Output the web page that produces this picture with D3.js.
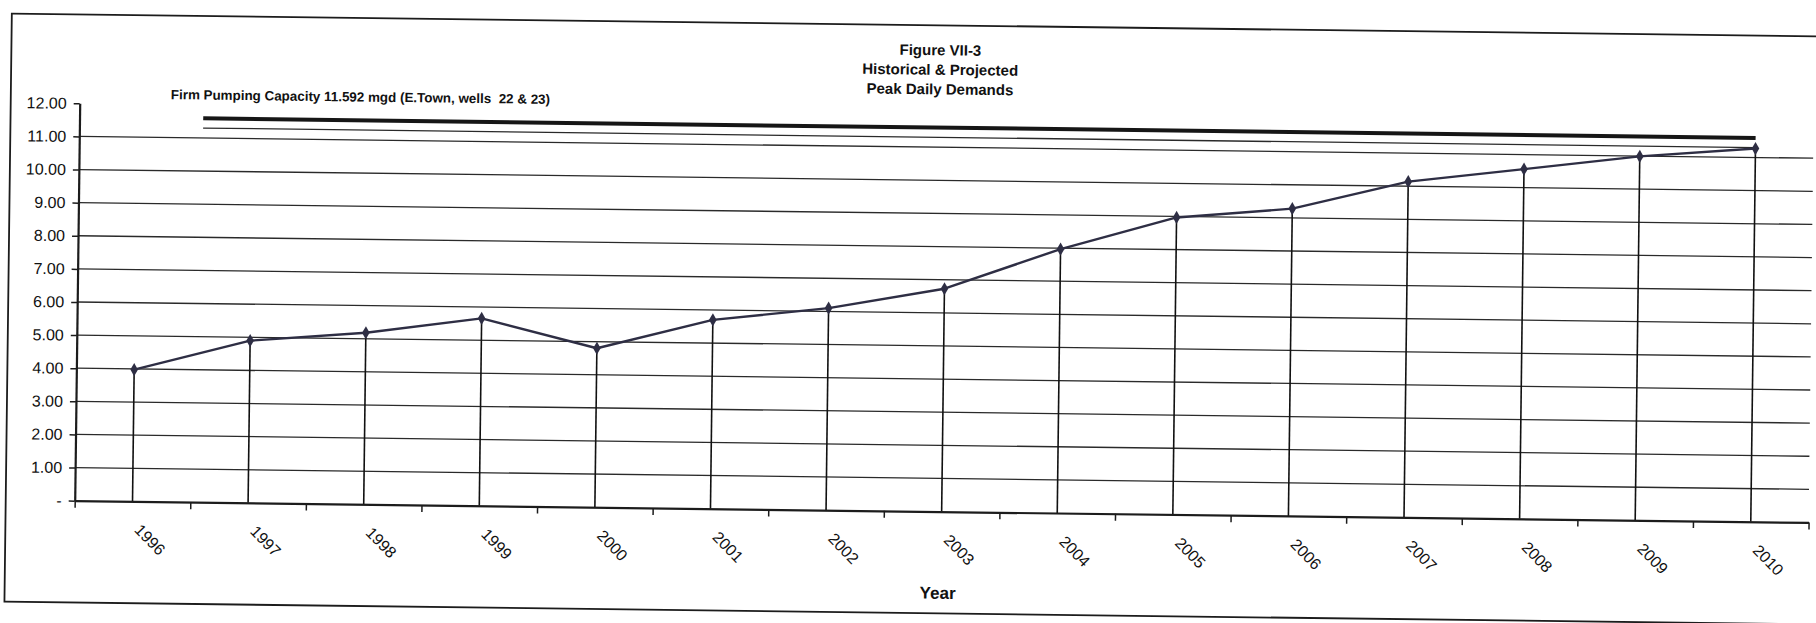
<!DOCTYPE html>
<html>
<head>
<meta charset="utf-8">
<script src="https://cdn.jsdelivr.net/npm/d3@7"></script>
<style>
  html, body { margin: 0; padding: 0; background: #ffffff; }
  svg { display: block; font-family: "Liberation Sans", Arial, sans-serif; }
</style>
</head>
<body>
<script>
// Peak daily demand, historical and projected (mgd)
const years = ["1996","1997","1998","1999","2000","2001","2002","2003","2004","2005","2006","2007","2008","2009","2010"];
const peakDemand = [3.98, 4.90, 5.18, 5.66, 4.80, 5.70, 6.10, 6.73, 7.97, 8.97, 9.28, 10.14, 10.56, 10.99, 11.27];

// Value axis ticks and their printed labels
const yTicks = [0, 1, 2, 3, 4, 5, 6, 7, 8, 9, 10, 11, 12];
const yTickLabels = ["-", "1.00", "2.00", "3.00", "4.00", "5.00", "6.00", "7.00", "8.00", "9.00", "10.00", "11.00", "12.00"];

// Firm pumping capacity line and the thin guide line beneath it
const firmCapacity = 11.592;
const guideLevel = 11.3;
const capacitySpan = [1996.57, 2010];

const titleLines = ["Figure VII-3", "Historical & Projected", "Peak Daily Demands"];
const capacityLabel = "Firm Pumping Capacity 11.592 mgd (E.Town, wells  22 & 23)";
const xTitle = "Year";

const W = 1816, H = 623;
const plot = { left: 81, right: 1815, top: 102.3, bottom: 499.7 };
const ink = "#1c1c1c";

const svg = d3.select("body").append("svg")
  .attr("width", W).attr("height", H).attr("viewBox", `0 0 ${W} ${H}`);

// the sheet sits slightly askew on the page
const g = svg.append("g").attr("transform", "rotate(0.72)");

// outer frame
g.append("rect")
  .attr("x", 12).attr("y", 13.5)
  .attr("width", 1900).attr("height", 588)
  .attr("fill", "none").attr("stroke", ink).attr("stroke-width", 1.8);

const x = d3.scaleBand().domain(years).range([plot.left, plot.right]);
const bw = x.bandwidth();
const cx = d => x(d) + bw / 2;
const yearPos = d3.scaleLinear()
  .domain([+years[0], +years[years.length - 1]])
  .range([cx(years[0]), cx(years[years.length - 1])]);
const slot = d3.scaleLinear().domain([0, years.length]).range([plot.left, plot.right]);
const y = d3.scaleLinear().domain([0, 12]).range([plot.bottom, plot.top]);

// horizontal gridlines
g.append("g").selectAll("line")
  .data(yTicks.filter(t => t > 0 && t < 12))
  .join("line")
  .attr("x1", plot.left).attr("x2", plot.right)
  .attr("y1", d => y(d)).attr("y2", d => y(d))
  .attr("stroke", "#2a2a2a").attr("stroke-width", 1.3);

// guide line and firm capacity line
g.append("line")
  .attr("x1", yearPos(capacitySpan[0])).attr("x2", yearPos(capacitySpan[1]))
  .attr("y1", y(guideLevel)).attr("y2", y(guideLevel))
  .attr("stroke", "#2a2a2a").attr("stroke-width", 1.3);
g.append("line")
  .attr("x1", yearPos(capacitySpan[0])).attr("x2", yearPos(capacitySpan[1]))
  .attr("y1", y(firmCapacity)).attr("y2", y(firmCapacity))
  .attr("stroke", "#161616").attr("stroke-width", 4);

g.append("text")
  .attr("x", 172).attr("y", 97)
  .attr("font-size", 13.4).attr("font-weight", "bold").attr("fill", "#111")
  .style("white-space", "pre")
  .text(capacityLabel);

const pts = years.map((yr, i) => ({ yr, v: peakDemand[i] }));

// drop lines from each point to the category axis
g.append("g").selectAll("line")
  .data(pts)
  .join("line")
  .attr("x1", d => cx(d.yr)).attr("x2", d => cx(d.yr))
  .attr("y1", d => y(d.v)).attr("y2", y(0))
  .attr("stroke", "#111").attr("stroke-width", 1.6);

// demand line with diamond markers
g.append("path")
  .datum(pts)
  .attr("fill", "none").attr("stroke", "#2e2e44").attr("stroke-width", 2.4)
  .attr("stroke-linejoin", "round")
  .attr("d", d3.line().x(d => cx(d.yr)).y(d => y(d.v)));

g.append("g").selectAll("path")
  .data(pts)
  .join("path")
  .attr("transform", d => `translate(${cx(d.yr)},${y(d.v)})`)
  .attr("d", d3.symbol(d3.symbolDiamond, 50))
  .attr("fill", "#2e2e44");

// value axis
const yAxis = g.append("g")
  .attr("transform", `translate(${plot.left},0)`)
  .call(d3.axisLeft(y).tickValues(yTicks).tickSize(6).tickSizeOuter(0).tickPadding(7)
    .tickFormat((d, i) => yTickLabels[i]));
yAxis.select(".domain").attr("stroke", ink).attr("stroke-width", 2.2);
yAxis.selectAll(".tick line").attr("stroke", ink).attr("stroke-width", 1.5);
yAxis.selectAll(".tick text").attr("font-size", 16).attr("fill", "#111")
  .attr("font-family", "Liberation Sans, Arial, sans-serif");

// category axis with ticks between categories
const xAxis = g.append("g")
  .attr("transform", `translate(0,${y(0)})`)
  .call(d3.axisBottom(slot).tickValues(d3.range(0, years.length + 1)).tickFormat("")
    .tickSize(7).tickSizeOuter(0));
xAxis.select(".domain").attr("stroke", ink).attr("stroke-width", 2.2);
xAxis.selectAll(".tick line").attr("stroke", ink).attr("stroke-width", 1.5);

g.append("g").selectAll("text")
  .data(years)
  .join("text")
  .attr("transform", d => `translate(${cx(d) + 18},${y(0) + 38}) rotate(45)`)
  .attr("text-anchor", "middle").attr("dy", "0.35em")
  .attr("font-size", 16).attr("fill", "#111")
  .text(d => d);

g.append("text")
  .attr("x", 945).attr("y", 587)
  .attr("text-anchor", "middle")
  .attr("font-size", 17).attr("font-weight", "bold").attr("fill", "#111")
  .text(xTitle);

// title block
g.append("g").selectAll("text")
  .data(titleLines)
  .join("text")
  .attr("x", 941).attr("y", (d, i) => 43.5 + i * 19.5)
  .attr("text-anchor", "middle")
  .attr("font-size", 15).attr("font-weight", "bold").attr("fill", "#111")
  .text(d => d);
</script>
</body>
</html>
